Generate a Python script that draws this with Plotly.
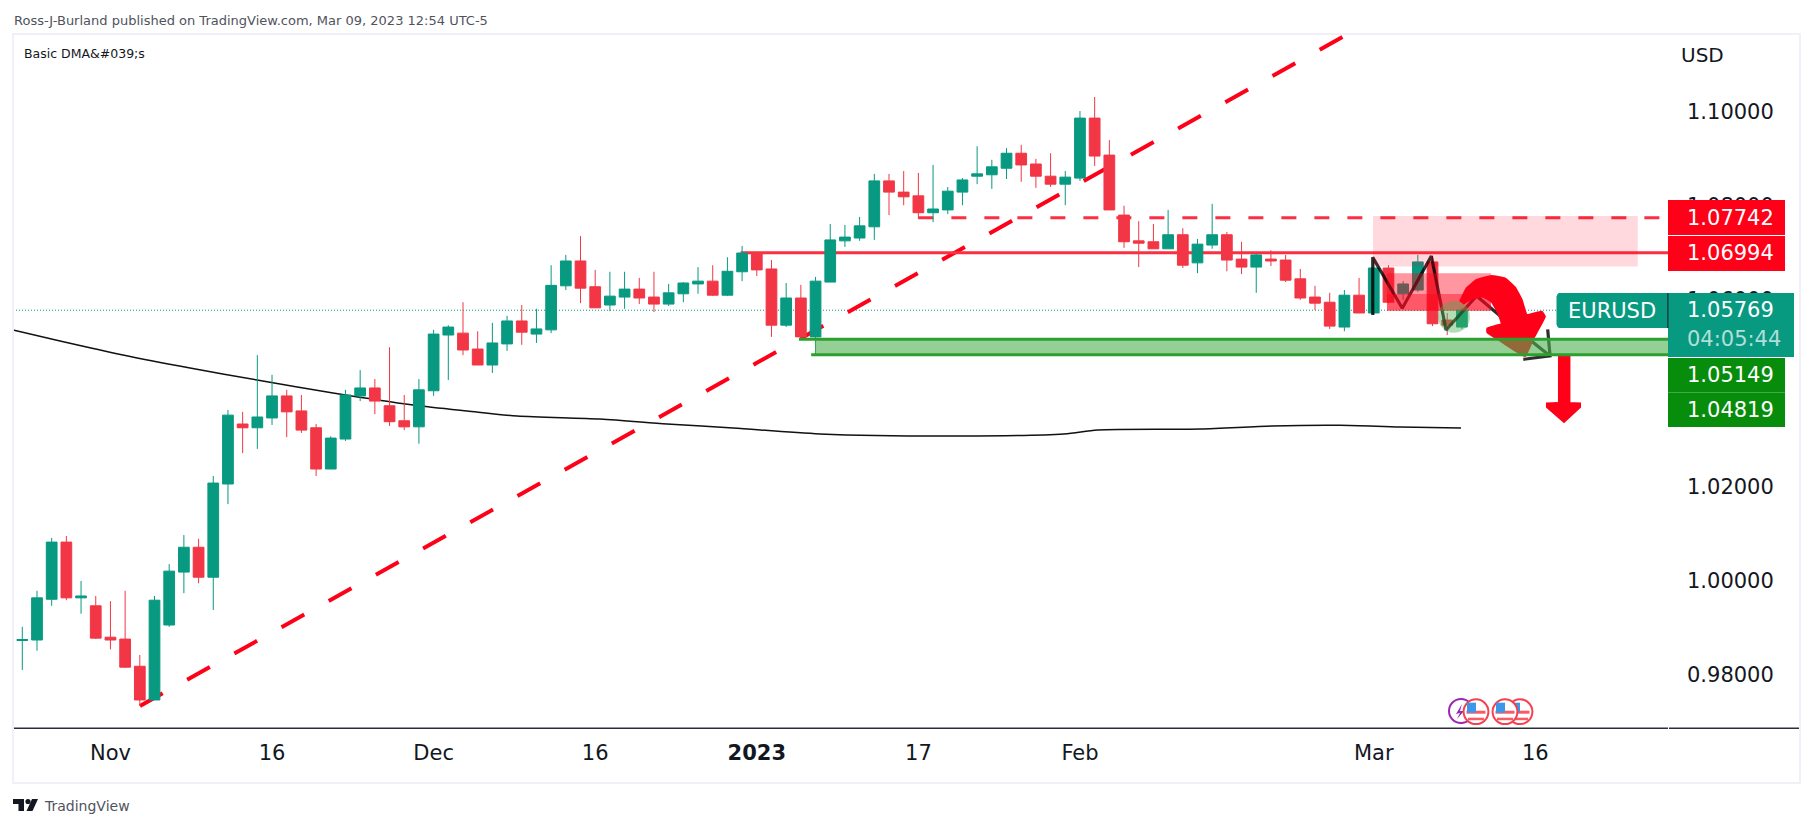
import plotly.graph_objects as go

# ---- price data (one entry per trading session; session 0 = 24 Oct 2022) ----
opens = [
 .9872,.9873,.9960,1.0082,.9963,.9946,.9879,.9875,.9817,.9745,
 .9905,1.0018,1.0071,1.0007,1.0206,1.0334,1.0326,1.0347,1.0394,1.0362,
 1.0326,1.0238,1.0302,1.0394,1.0411,1.0373,1.0341,1.0328,1.0405,1.0524,
 1.0528,1.0494,1.0460,1.0505,1.0554,1.0526,1.0535,1.0629,1.0682,1.0627,
 1.0588,1.0605,1.0622,1.0605,1.0590,1.0612,1.0633,1.0639,1.0609,1.0659,
 1.0699,1.0665,1.0545,1.0603,1.0520,1.0637,1.0725,1.0731,1.0755,1.0853,
 1.0829,1.0821,1.0785,1.0791,1.0829,1.0863,1.0866,1.0880,1.0912,1.0889,
 1.0863,1.0846,1.0859,1.0987,1.0908,1.0780,1.0725,1.0723,1.0708,1.0738,
 1.0678,1.0716,1.0738,1.0686,1.0669,1.0686,1.0684,1.0644,1.0605,1.0594,
 1.0541,1.0609,1.0571,1.0667,1.0612,1.0620,1.0680,1.0556,1.0541]
highs = [
 .9901,.9978,1.0091,1.0095,.9999,.9967,.9956,.9978,.9841,.9967,
 1.0035,1.0097,1.0089,1.0223,1.0364,1.0360,1.0481,1.0439,1.0407,1.0396,
 1.0334,1.0308,1.0407,1.0449,1.0430,1.0498,1.0396,1.0430,1.0535,1.0545,
 1.0594,1.0532,1.0550,1.0565,1.0588,1.0580,1.0673,1.0695,1.0735,1.0663,
 1.0659,1.0659,1.0646,1.0659,1.0633,1.0637,1.0669,1.0673,1.0690,1.0714,
 1.0699,1.0684,1.0635,1.0631,1.0648,1.0761,1.0759,1.0776,1.0868,1.0868,
 1.0874,1.0870,1.0887,1.0840,1.0859,1.0927,1.0898,1.0923,1.0930,1.0900,
 1.0912,1.0874,1.1002,1.1032,1.0940,1.0800,1.0767,1.0761,1.0791,1.0752,
 1.0729,1.0804,1.0744,1.0723,1.0697,1.0705,1.0695,1.0665,1.0629,1.0614,
 1.0620,1.0646,1.0688,1.0673,1.0639,1.0695,1.0693,1.0571,1.0582]
lows = [
 .9809,.9850,.9946,.9958,.9929,.9875,.9853,.9813,.9732,.9745,
 .9901,.9973,.9994,.9937,1.0163,1.0272,1.0281,1.0332,1.0306,1.0315,
 1.0223,1.0238,1.0298,1.0383,1.0355,1.0330,1.0321,1.0292,1.0394,1.0428,
 1.0481,1.0460,1.0443,1.0490,1.0503,1.0507,1.0528,1.0620,1.0592,1.0582,
 1.0575,1.0580,1.0590,1.0573,1.0586,1.0594,1.0612,1.0607,1.0607,1.0639,
 1.0650,1.0520,1.0541,1.0513,1.0481,1.0637,1.0712,1.0725,1.0727,1.0780,
 1.0801,1.0772,1.0765,1.0782,1.0801,1.0846,1.0836,1.0857,1.0851,1.0838,
 1.0840,1.0801,1.0853,1.0885,1.0791,1.0710,1.0669,1.0708,1.0708,1.0667,
 1.0656,1.0708,1.0660,1.0654,1.0614,1.0671,1.0637,1.0599,1.0577,1.0537,
 1.0532,1.0571,1.0567,1.0592,1.0599,1.0616,1.0543,1.0524,1.0537]
closes = [
 .9874,.9963,1.0082,.9963,.9967,.9877,.9873,.9815,.9745,.9958,
 1.0020,1.0071,1.0007,1.0208,1.0353,1.0326,1.0349,1.0394,1.0360,1.0321,
 1.0238,1.0304,1.0396,1.0411,1.0383,1.0339,1.0328,1.0407,1.0526,1.0541,
 1.0492,1.0460,1.0507,1.0554,1.0530,1.0537,1.0630,1.0682,1.0624,1.0582,
 1.0607,1.0622,1.0603,1.0590,1.0614,1.0635,1.0639,1.0609,1.0660,1.0699,
 1.0663,1.0545,1.0603,1.0520,1.0639,1.0727,1.0733,1.0757,1.0853,1.0829,
 1.0819,1.0785,1.0793,1.0831,1.0855,1.0868,1.0883,1.0912,1.0887,1.0863,
 1.0846,1.0861,1.0987,1.0906,1.0791,1.0723,1.0720,1.0708,1.0738,1.0673,
 1.0718,1.0738,1.0684,1.0669,1.0695,1.0682,1.0641,1.0603,1.0592,1.0543,
 1.0609,1.0571,1.0667,1.0594,1.0633,1.0680,1.0548,1.0545,1.05769]
sessions = list(range(len(opens)))

sma_x = [-.63,2.57,6.85,11.42,15.98,21.15,26.6,30.28,33.68,39.33,43.89,48.38,54.3,63.83,70.91,73.22,80.17,85.07,89.7,93.78,97.94]
sma_v = [1.05348,1.05113,1.04814,1.04536,1.04280,1.04003,1.03747,1.03619,1.03512,1.03448,1.03342,1.03256,1.03128,1.03085,1.03128,1.03214,1.03235,1.03299,1.03314,1.03277,1.03256]

x_tick_pos = [6, 17, 28, 39, 50, 61, 72, 92, 103]
x_tick_txt = ["Nov", "16", "Dec", "16", "<b>2023</b>", "17", "Feb", "Mar", "16"]
y_tick_val = [1.10, 1.08, 1.06, 1.02, 1.00, 0.98]
y_tick_txt = ["1.10000", "1.08000", "1.06000", "1.02000", "1.00000", "0.98000"]

level_resist = 1.06994
level_dash = 1.07742
level_last = 1.05769
level_sup_hi = 1.05149
level_sup_lo = 1.04819

# ---- hand-drawn chart annotations, in session / price units ----
trend_x = [8.01, 90.24]
trend_y = [0.97322, 1.11665]
zig_x = [91.93, 91.93, 93.94, 95.92, 96.92, 99.0, 100.71, 104.0]
zig_y = [1.05668, 1.06899, 1.05811, 1.06927, 1.05348, 1.06073, 1.05619, 1.04793]
zighead_x = [103.84, 104.0, 102.18]
zighead_y = [1.05361, 1.04793, 1.04721]
curve_x = [97.87,98.32,99.0,100.02,100.93,101.61,102.07,102.41,103.43,103.65,102.86,102.29,100.70,99.73,99.73,100.70,100.48,100.02,99.46,98.89,98.32,98.05]
curve_y = [1.05953,1.06237,1.06415,1.06500,1.06450,1.06258,1.05988,1.05668,1.05739,1.05632,1.05170,1.04793,1.05099,1.05298,1.05384,1.05476,1.05704,1.05953,1.06059,1.06038,1.05953,1.05903]
down_x = [104.54,105.32,105.32,106.04,106.04,104.95,103.79,103.79,104.54]
down_y = [1.04793,1.04793,1.03789,1.03779,1.03704,1.03384,1.03704,1.03779,1.03789]

# ---- canvas geometry ----
W, H = 1813, 827
L, R, T, B = 13, 1668, 34, 728
X_RANGE = [-0.633, 112.03]
Y_RANGE = [0.96852, 1.11665]
FONT = "DejaVu Sans"
GREEN, RED = "#089981", "#F23645"
DRAW_RED = "#FF0019"
LINE_RED = "#FB2F42"
BAND = "#2CA02C"
LABEL_RED = "#FF0019"
LABEL_GREEN = "#088C0C"

def px(x):
    return (x - L) / (R - L)

def py(y):
    return (B - y) / (B - T)

fig = go.Figure()

# Below candles
fig.add_trace(go.Scatter(x=X_RANGE, y=[level_last, level_last], mode="lines",
    line=dict(color=GREEN, width=1, dash="1px,2px"), hoverinfo="skip"))
fig.add_trace(go.Scatter(x=trend_x, y=trend_y, mode="lines",
    line=dict(color=DRAW_RED, width=4, dash="26px,28px"), hoverinfo="skip"))
fig.add_trace(go.Scatter(x=[61, X_RANGE[1]], y=[level_dash, level_dash], mode="lines",
    line=dict(color=LINE_RED, width=3, dash="15px,18px"), hoverinfo="skip"))
fig.add_trace(go.Scatter(x=[48.9, X_RANGE[1]], y=[level_resist, level_resist], mode="lines",
    line=dict(color=LINE_RED, width=3), hoverinfo="skip"))
fig.add_trace(go.Scatter(x=sma_x, y=sma_v, mode="lines",
    line=dict(color="#111111", width=1.5, shape="spline", smoothing=0.8), hoverinfo="skip"))

# Candles and top drawings on an overlay subplot
fig.add_trace(go.Candlestick(x=sessions, open=opens, high=highs, low=lows, close=closes,
    xaxis="x2", yaxis="y2", hoverinfo="skip", whiskerwidth=0,
    increasing=dict(line=dict(color=GREEN, width=1), fillcolor=GREEN),
    decreasing=dict(line=dict(color=RED, width=1), fillcolor=RED)))
fig.add_trace(go.Scatter(x=zig_x, y=zig_y, mode="lines", xaxis="x2", yaxis="y2",
    line=dict(color="rgba(0,0,0,0.82)", width=3.2), hoverinfo="skip"))
fig.add_trace(go.Scatter(x=zighead_x, y=zighead_y, mode="lines", xaxis="x2", yaxis="y2",
    line=dict(color="rgba(0,0,0,0.82)", width=3.2), hoverinfo="skip"))
fig.add_trace(go.Scatter(x=curve_x, y=curve_y, mode="lines", fill="toself", fillcolor=DRAW_RED,
    xaxis="x2", yaxis="y2", line=dict(color=DRAW_RED, width=2, shape="spline", smoothing=0.3), hoverinfo="skip"))
fig.add_trace(go.Scatter(x=down_x, y=down_y, mode="lines", fill="toself", fillcolor=DRAW_RED,
    xaxis="x2", yaxis="y2", line=dict(color=DRAW_RED, width=2), hoverinfo="skip"))

shapes = []

def rect_data(x0, x1, y0, y1, fill):
    shapes.append(dict(type="rect", xref="x", yref="y", x0=x0, x1=x1, y0=y0, y1=y1,
                       fillcolor=fill, line=dict(width=0), layer="above"))

def hline_data(x0, x1, y, color, w):
    shapes.append(dict(type="line", xref="x", yref="y", x0=x0, x1=x1, y0=y, y1=y,
                       line=dict(color=color, width=w), layer="above"))

def rect_px(x0, x1, y0, y1, fill, w=0, color=None):
    shapes.append(dict(type="rect", xref="paper", yref="paper", x0=px(x0), x1=px(x1), y0=py(y0), y1=py(y1),
                       fillcolor=fill, line=dict(width=w, color=color), layer="above"))

def circle_px(cx, cy, r, fill, w=0, color=None):
    shapes.append(dict(type="circle", xref="paper", yref="paper", x0=px(cx-r), x1=px(cx+r), y0=py(cy-r), y1=py(cy+r),
                       fillcolor=fill, line=dict(width=w, color=color), layer="above"))

def poly_px(points, fill):
    d = "M " + " L ".join(f"{px(a):.5f},{py(b):.5f}" for a, b in points) + " Z"
    shapes.append(dict(type="path", xref="paper", yref="paper", path=d, fillcolor=fill,
                       line=dict(width=0), layer="above"))

# zones
rect_data(91.95, 109.97, 1.0670, 1.0778, "rgba(255,0,25,0.15)")
rect_data(92.9, 99.98, 1.0576, 1.0656, "rgba(255,0,25,0.41)")
rect_data(92.9, 99.98, 1.0576, 1.06116, "rgba(255,0,25,0.41)")
shapes.append(dict(type="circle", xref="x", yref="y", x0=96.37, x1=98.55, y0=1.05289, y1=1.05973,
                   fillcolor="rgba(76,175,80,0.42)", line=dict(width=0), layer="above"))
rect_data(53.96, X_RANGE[1], level_sup_lo, level_sup_hi, "rgba(76,175,80,0.6)")
hline_data(52.87, X_RANGE[1], level_sup_hi, BAND, 3)
hline_data(53.7, X_RANGE[1], level_sup_lo, BAND, 3)

# frame
FRAME = "#F0F0F6"
rect_px(12, 1801, 33, 35, FRAME)
rect_px(12, 14, 33, 784, FRAME)
rect_px(1799, 1801, 33, 784, FRAME)
rect_px(12, 1801, 782, 784, FRAME)
rect_px(14, 1668, 727.5, 729, "#2A2E39")
rect_px(1669, 1799, 727.5, 729, "#2A2E39")

# price labels
rect_px(1668, 1785, 200, 235, LABEL_RED)
rect_px(1668, 1785, 236, 271, LABEL_RED)
rect_px(1668, 1794, 293, 357, GREEN)
rect_px(1559, 1668, 293, 328, GREEN)
circle_px(1560, 296, 3, GREEN); circle_px(1560, 325, 3, GREEN)
rect_px(1556.5, 1562, 296, 325, GREEN)
rect_px(1667.4, 1668.4, 293, 328, "#131722")
rect_px(1668, 1785, 358, 392.5, LABEL_GREEN)
rect_px(1668, 1785, 392.5, 427, LABEL_GREEN)

# event icons
def flag(cx, cy):
    circle_px(cx, cy, 12.4, "white", 2, "#F5414F")
    rect_px(cx-9.5, cx+9.5, cy-1, cy+2, "#F85A66")
    rect_px(cx-8, cx+8, cy+6, cy+8.5, "#F85A66")
    rect_px(cx-9, cx, cy-9, cy+1, "#3C97E8")

circle_px(1461, 711, 12, "white", 2, "#9C27B0")
poly_px([(1462, 704), (1456, 714), (1460, 713), (1457, 719), (1464, 711), (1460, 711)], "#9C27B0")
flag(1476, 711.7)
flag(1520, 711.7)
flag(1505, 711.7)

# TradingView logo
poly_px([(13, 799), (24, 799), (24, 811), (18.5, 811), (18.5, 804), (13, 804)], "#131722")
circle_px(28, 801.5, 2.6, "#131722")
poly_px([(32, 799), (38, 799), (32.5, 811), (26.5, 811)], "#131722")

fig.update_layout(shapes=shapes)

# ---- text ----
def txt(x, y, s, size=21, color="white", anchor="left", font=FONT):
    fig.add_annotation(xref="paper", yref="paper", x=px(x), y=py(y), text=s, showarrow=False,
                       xanchor=anchor, yanchor="middle", borderpad=0,
                       font=dict(family=font, size=size, color=color))

txt(13, 20, "Ross-J-Burland published on TradingView.com, Mar 09, 2023 12:54 UTC-5", 13, "#50535E")
txt(23, 54, "Basic DMA&amp;#039;s", 12.5, "#131722")
txt(1680, 55, "USD", 20, "#131722")
txt(43, 806, "TradingView", 14, "#50535E")
txt(1686, 218, f"{level_dash:.5f}")
txt(1686, 253, f"{level_resist:.5f}")
txt(1567, 310.5, "EURUSD")
txt(1686, 310, f"{level_last:.5f}")
txt(1686, 339, "04:05:44", 21, "rgba(255,255,255,0.7)")
txt(1686, 375, f"{level_sup_hi:.5f}")
txt(1686, 410, f"{level_sup_lo:.5f}")

axis_font = dict(family=FONT, size=21, color="#131722")
fig.update_layout(
    width=W, height=H, autosize=False, showlegend=False,
    paper_bgcolor="white", plot_bgcolor="white",
    margin=dict(l=L, r=W-R, t=T, b=H-B, pad=0),
    boxgap=0.27, boxgroupgap=0,
    xaxis=dict(range=X_RANGE, tickmode="array", tickvals=x_tick_pos, ticktext=x_tick_txt,
               showgrid=False, zeroline=False, showline=False, ticks="", ticklabelstandoff=10,
               tickfont=axis_font, rangeslider=dict(visible=False), fixedrange=True),
    yaxis=dict(range=Y_RANGE, side="right", tickmode="array", tickvals=y_tick_val, ticktext=y_tick_txt,
               showgrid=False, zeroline=False, showline=False, ticks="", ticklabelstandoff=18,
               tickfont=axis_font, fixedrange=True),
    xaxis2=dict(range=X_RANGE, overlaying="x", anchor="y2", visible=False,
                rangeslider=dict(visible=False), fixedrange=True),
    yaxis2=dict(range=Y_RANGE, overlaying="y", anchor="x2", side="right", visible=False, fixedrange=True),
    hovermode=False,
)

fig.write_html("out.html", config=dict(displayModeBar=False),
               post_script="document.body.style.margin='0';document.body.style.overflow='hidden';")
